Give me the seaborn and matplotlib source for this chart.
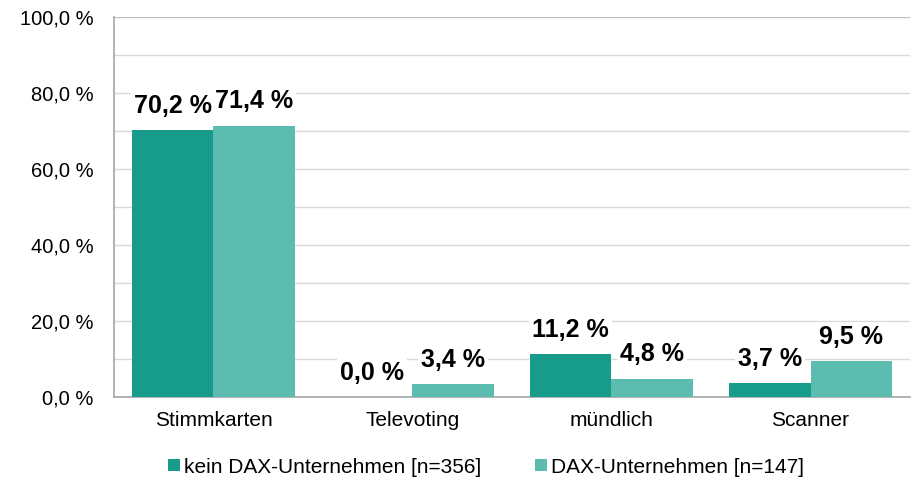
import pandas as pd
import matplotlib
matplotlib.use("Agg")
import matplotlib.pyplot as plt
import seaborn as sns

sns.set_style("white")
plt.rcParams["font.family"] = ["Liberation Sans", "DejaVu Sans"]
plt.rcParams["text.color"] = "black"
plt.rcParams["xtick.color"] = "black"
plt.rcParams["ytick.color"] = "black"

# ---- data ----
categories = ["Stimmkarten", "Televoting", "mündlich", "Scanner"]
groups = ["kein DAX-Unternehmen [n=356]", "DAX-Unternehmen [n=147]"]
kein_dax = [70.2, 0.0, 11.2, 3.7]
dax = [71.4, 3.4, 4.8, 9.5]
y_ticks = [0, 20, 40, 60, 80, 100]

df = pd.DataFrame({
    "Kategorie": categories * 2,
    "Gruppe": [groups[0]] * 4 + [groups[1]] * 4,
    "Wert": kein_dax + dax,
})

colors = ["#179C8C", "#5DBCB0"]

fig = plt.figure(figsize=(9.22, 4.82), dpi=100)
ax = fig.add_axes([0.1236, 0.1763, 0.8634, 0.7884])

sns.barplot(data=df, x="Kategorie", y="Wert", hue="Gruppe",
            palette=colors, width=0.82, saturation=1, ax=ax,
            linewidth=0, zorder=3)

ax.set_ylim(0, 100)
ax.set_yticks(y_ticks)
ax.set_yticklabels([f"{t:.1f} %".replace(".", ",") for t in y_ticks], fontsize=14.5)
ax.set_yticks(range(10, 100, 20), minor=True)
ax.grid(axis="y", which="both", color="#D9D9D9", linewidth=1, zorder=0)
ax.tick_params(axis="y", which="major", length=0, pad=15)
ax.tick_params(axis="y", which="minor", length=0)
ax.tick_params(axis="x", length=0, labelsize=15, pad=10)
ax.set_xlabel("")
ax.set_ylabel("")

for side in ["top", "right"]:
    ax.spines[side].set_visible(False)
for side in ["left", "bottom"]:
    ax.spines[side].set_color("#A6A6A6")
    ax.spines[side].set_linewidth(1.2)
ax.axhline(100, color="#BFBFBF", linewidth=1.5, zorder=1)

# ---- data labels ----
for cont in ax.containers:
    for bar in cont:
        h = bar.get_height()
        ax.annotate(f"{h:.1f} %".replace(".", ","),
                    (bar.get_x() + bar.get_width() / 2, h),
                    xytext=(0, 12.5), textcoords="offset points",
                    ha="center", va="baseline", fontsize=18, fontweight="bold",
                    bbox=dict(boxstyle="square,pad=0.12", fc="white", ec="none"),
                    zorder=5)

ax.legend(loc="center", bbox_to_anchor=(0.527, 0.031),
          bbox_transform=fig.transFigure, ncol=2, frameon=False,
          fontsize=15, handlelength=0.55, handleheight=0.55,
          handletextpad=0.2, columnspacing=2.6, borderpad=0)

fig.savefig("out.png", dpi=100)
